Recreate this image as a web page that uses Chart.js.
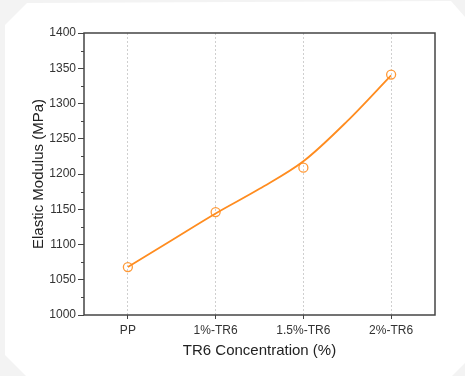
<!DOCTYPE html>
<html>
<head>
<meta charset="utf-8">
<script src="https://cdn.jsdelivr.net/npm/chart.js@4/dist/chart.umd.min.js"></script>
<style>
    html, body { margin: 0; padding: 0; }
    body { width: 465px; height: 376px; background: #f3f3f3; position: relative; overflow: hidden; }
    .tarjeta {
        position: absolute; left: 0; top: 0; width: 465px; height: 376px; background: #fff;
        clip-path: polygon(27px 3px, 451px 1px, 465px 17px, 465px 363px, 452px 376px, 26px 376px, 5px 355px, 5px 25px);
    }
    canvas { position: absolute; left: 0; top: 0; }
</style>
</head>
<body>
<div class="tarjeta"></div>
<canvas id="graficaModulo" width="465" height="376"></canvas>
<script>
// Datos: modulo elastico vs concentracion de TR6
const categorias = ['PP', '1%-TR6', '1.5%-TR6', '2%-TR6'];
const moduloMedido = [1068, 1146, 1209, 1341];   // puntos medidos (MPa)
// curva suavizada, leida cada media categoria
const posCurva = [0, 0.5, 1, 1.5, 2, 2.5, 3];
const valCurva = [1068, 1106, 1144, 1179, 1218, 1275, 1340];
const ticksY = { min: 1000, max: 1400, paso: 50 };

const colorLinea = '#ff8c1f';
const colorMarca = '#ff9a38';
const colorEje = '#444';

Chart.defaults.font.family = "'Liberation Sans', Arial, sans-serif";
Chart.defaults.color = '#333';

// Caja completa alrededor del area de trazado + ticks menores del eje Y
const marcoPlugin = {
    id: 'marco',
    afterDraw(chart) {
        const { ctx, chartArea: a, scales } = chart;
        ctx.save();
        ctx.strokeStyle = colorEje;
        ctx.lineWidth = 1.5;
        ctx.strokeRect(a.left, a.top, a.right - a.left, a.bottom - a.top);
        ctx.lineWidth = 1;
        const y = scales.y;
        for (let v = ticksY.min + ticksY.paso / 2; v < ticksY.max; v += ticksY.paso) {
            const py = Math.round(y.getPixelForValue(v)) + 0.5;
            ctx.beginPath();
            ctx.moveTo(a.left - 3, py);
            ctx.lineTo(a.left, py);
            ctx.stroke();
        }
        ctx.restore();
    }
};

const ctx = document.getElementById('graficaModulo').getContext('2d');
new Chart(ctx, {
    type: 'line',
    data: {
        datasets: [
            {
                label: 'Ajuste',
                data: posCurva.map((x, i) => ({ x, y: valCurva[i] })),
                borderColor: colorLinea,
                borderWidth: 1.8,
                cubicInterpolationMode: 'monotone',
                pointRadius: 0,
                fill: false
            },
            {
                label: 'Modulo elastico',
                data: moduloMedido.map((y, i) => ({ x: i, y })),
                showLine: false,
                pointStyle: 'circle',
                pointRadius: 4.5,
                pointBorderWidth: 1.3,
                pointBorderColor: colorMarca,
                pointBackgroundColor: 'rgba(0,0,0,0)'
            }
        ]
    },
    options: {
        responsive: false,
        devicePixelRatio: 1,
        animation: false,
        layout: { padding: { left: 0, right: 30, top: 33, bottom: 0 } },
        plugins: { legend: { display: false }, tooltip: { enabled: false } },
        scales: {
            x: {
                type: 'linear',
                min: -0.5,
                max: categorias.length - 0.5,
                afterFit: (s) => { s.height = 61; },
                afterBuildTicks: (s) => { s.ticks = categorias.map((_, i) => ({ value: i })); },
                grid: {
                    color: '#cfcfcf',
                    lineWidth: 1,
                    tickColor: colorEje,
                    tickLength: 4,
                    drawTicks: true
                },
                border: { display: false, dash: [2, 2] },
                ticks: {
                    font: { size: 12 },
                    color: '#333',
                    padding: 4,
                    callback: (v) => categorias[v]
                },
                title: {
                    display: true,
                    text: 'TR6 Concentration (%)',
                    font: { size: 15 },
                    color: '#222',
                    padding: { top: 0, bottom: 16 }
                }
            },
            y: {
                min: ticksY.min,
                max: ticksY.max,
                afterFit: (s) => { s.width = 84; },
                grid: {
                    drawOnChartArea: false,
                    tickColor: colorEje,
                    tickLength: 6,
                    tickWidth: 1
                },
                border: { display: false },
                ticks: {
                    stepSize: ticksY.paso,
                    font: { size: 12 },
                    color: '#333',
                    padding: 2,
                    callback: (v) => String(v)
                },
                title: {
                    display: true,
                    text: 'Elastic Modulus (MPa)',
                    font: { size: 15 },
                    color: '#222',
                    padding: { top: 30, bottom: 0 }
                }
            }
        }
    },
    plugins: [marcoPlugin]
});
</script>
</body>
</html>
